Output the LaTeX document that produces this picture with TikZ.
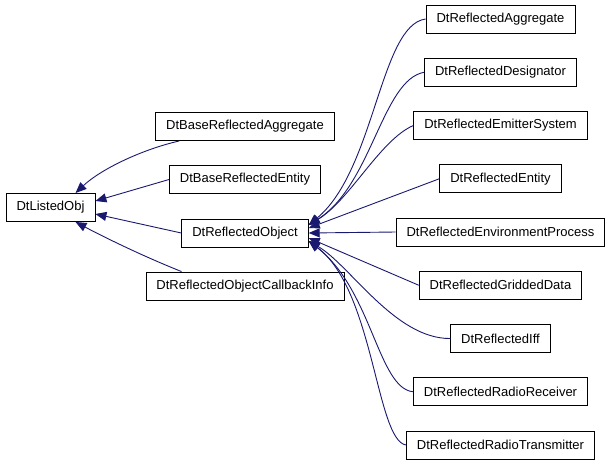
\documentclass[tikz,border=0pt]{standalone}
\usepackage{fontspec}
\setmainfont{Liberation Sans}
\usetikzlibrary{arrows.meta}
\definecolor{edgeblue}{HTML}{191970}

\begin{document}
\begin{tikzpicture}[
    x=1pt, y=-1pt,
    cls/.style={draw, line width=0.9pt, fill=white, minimum height=28pt, inner xsep=10.5pt,
        font=\fontsize{13}{15}\selectfont},
    edge/.style={draw=edgeblue, line width=0.9pt,
        -{Triangle[length=11pt, width=9pt, fill=edgeblue]}}
]
\useasboundingbox (0,0) rectangle (613,467);

% Base
\node[cls] (listed) at (50.5,207.5) {DtListedObj};

% Middle column
\node[cls] (bagg) at (245,126.5) {DtBaseReflectedAggregate};
\node[cls] (bent) at (245,179.5) {DtBaseReflectedEntity};
\node[cls] (obj)  at (245,233)   {DtReflectedObject};
\node[cls] (cb)   at (245,286)   {DtReflectedObjectCallbackInfo};

% Right column
\foreach \n/\t [count=\i] in {agg/Aggregate, des/Designator, emi/EmitterSystem,
    ent/Entity, env/EnvironmentProcess, grid/GriddedData, iff/Iff,
    rrx/RadioReceiver, rtx/RadioTransmitter} {
    \node[cls] (\n) at (500.5,{19+(\i-1)*53.25}) {DtReflected\t};
}

% Edges to DtListedObj
\draw[edge] ([xshift=24pt]bagg.south west) .. controls (140,150) and (100,170) .. ([xshift=25pt]listed.north);
\draw[edge] (bent.west) -- ([yshift=6.5pt]listed.east);
\draw[edge] (obj.west) -- ([yshift=-6.5pt]listed.east);
\draw[edge] ([xshift=36pt]cb.north west) .. controls (140,255) and (100,235) .. ([xshift=25pt]listed.south);

% Edges to DtReflectedObject
\draw[edge] (agg.west) .. controls (380,25) and (375,170) .. ([yshift=8pt]obj.east);
\draw[edge] (des.west) .. controls (382,80) and (372,185) .. ([yshift=8pt]obj.east);
\draw[edge] (emi.west) .. controls (380,140) and (350,200) .. ([yshift=8pt]obj.east);
\draw[edge] (ent.west) -- ([yshift=5pt]obj.east);
\draw[edge] (env.west) -- (obj.east);
\draw[edge] (grid.west) -- ([yshift=-5pt]obj.east);
\draw[edge] (iff.west) .. controls (395,339) and (350,265) .. ([yshift=-8pt]obj.east);
\draw[edge] (rrx.west) .. controls (378,388) and (372,290) .. ([yshift=-8pt]obj.east);
\draw[edge] (rtx.west) .. controls (376,440) and (374,290) .. ([yshift=-8pt]obj.east);

\end{tikzpicture}
\end{document}
